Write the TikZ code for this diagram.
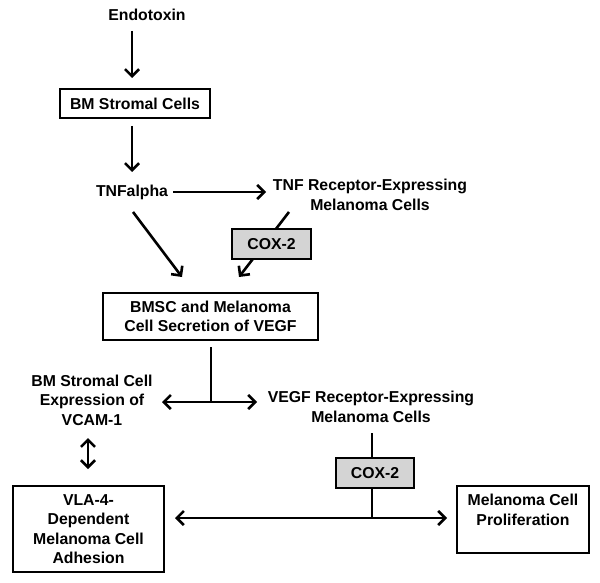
\documentclass[tikz,border=0pt]{standalone}
\usepackage{fontspec}
\setmainfont{Liberation Sans}
\usetikzlibrary{arrows.meta,backgrounds}
\begin{document}
\begin{tikzpicture}[x=1pt,y=-1pt,
  lbl/.style={font=\bfseries\fontsize{15.8}{19.5}\selectfont,align=center,inner sep=0pt},
  boxed/.style={lbl,draw,line width=1.3pt,fill=white},
  coxbox/.style={lbl,draw,line width=1.3pt,fill=black!17,minimum width=79pt,minimum height=30pt},
  tip/.tip={Straight Barb[length=7pt,width=14pt,line width=2.6pt]},
  arr/.style={line width=2.6pt,-tip},
  darr/.style={line width=2.6pt,tip-tip},
  ln/.style={line width=2.6pt}]
\useasboundingbox (0,0) rectangle (600,583);
\node[lbl] (endo) at (147,15) {Endotoxin};
\node[boxed,minimum width=150pt,minimum height=29pt] (bm) at (135,103.5) {BM Stromal Cells};
\node[lbl] (tnf) at (132,192) {TNFalpha};
\node[lbl] (tnfr) at (370,195) {TNF Receptor-Expressing\\Melanoma Cells};
\node[coxbox] (cox1) at (271.5,244) {COX-2};
\node[boxed,minimum width=215pt,minimum height=47pt] (bmsc) at (210.5,316.5) {BMSC and Melanoma\\Cell Secretion of VEGF};
\node[lbl] (vcam) at (92,400) {BM Stromal Cell\\Expression of\\VCAM-1};
\node[lbl] (vegfr) at (371,407) {VEGF Receptor-Expressing\\Melanoma Cells};
\node[coxbox,minimum width=78pt] (cox2) at (375,473) {COX-2};
\node[boxed,minimum width=151pt,minimum height=86pt] (vla) at (88.5,529) {VLA-4-\\Dependent\\Melanoma Cell\\Adhesion};
\node[draw,line width=1.3pt,minimum width=132pt,minimum height=67pt] (prolif) at (523,519.5) {};
\node[lbl,anchor=north] (proltxt) at (prolif.north |- 0,494) {Melanoma Cell\\Proliferation};
% connector coordinates
\coordinate (e1) at (132,31);
\coordinate (e2) at (132,78);
\coordinate (b1) at (132,126);
\coordinate (b2) at (132,172);
\coordinate (t1) at (173,192);
\coordinate (t2) at (266,192);
\coordinate (d1) at (133,212);
\coordinate (d2) at (182,277);
\coordinate (r1) at (289,212);
\coordinate (r2) at (239,277);
\coordinate (s1) at (211,347);
\coordinate (s2) at (211,402);
\coordinate (h1) at (162,402);
\coordinate (h2) at (257,402);
\coordinate (v1) at (372,433);
\coordinate (v2) at (372,518);
\coordinate (a1) at (88,438);
\coordinate (a2) at (88,469);
\coordinate (p1) at (175,518);
\coordinate (p2) at (447,518);
\draw[arr] (e1) -- (e2);
\draw[arr] (b1) -- (b2);
\draw[arr] (t1) -- (t2);
\draw[arr] (d1) -- (d2);
\draw[darr] (h1) -- (h2);
\draw[ln] (s1) -- (s2);
\draw[darr] (a1) -- (a2);
\draw[darr] (p1) -- (p2);
\begin{scope}[on background layer]
\draw[arr] (r1) -- (r2);
\draw[ln] (v1) -- (v2);
\end{scope}
\end{tikzpicture}
\end{document}
